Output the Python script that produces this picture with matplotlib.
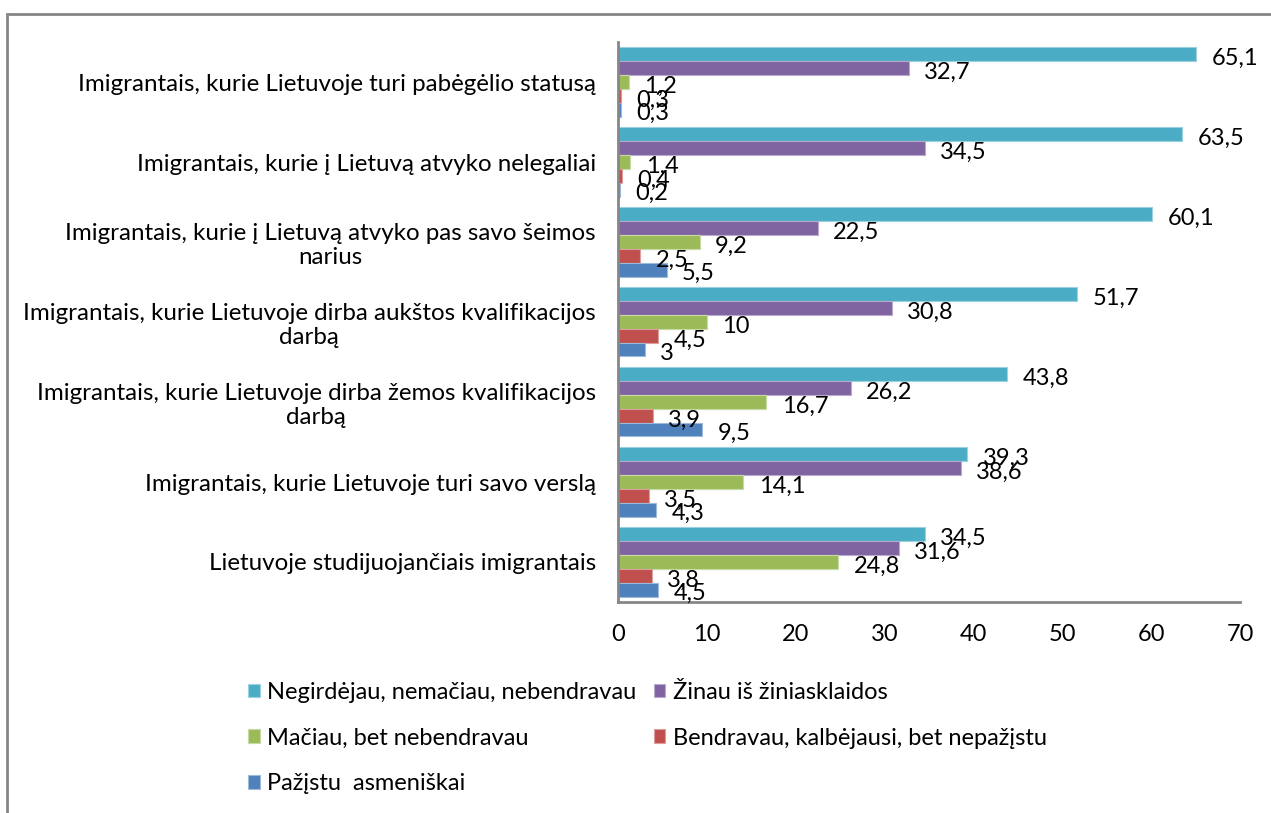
import matplotlib
matplotlib.use("Agg")
import matplotlib.pyplot as plt
import matplotlib.colors as mcolors
from matplotlib.patches import Rectangle
import numpy as np

plt.rcParams['font.family'] = ['Lato', 'DejaVu Sans']

categories = [
    "Imigrantais, kurie Lietuvoje turi pabėgėlio statusą",
    "Imigrantais, kurie į Lietuvą atvyko nelegaliai",
    "Imigrantais, kurie į Lietuvą atvyko pas savo šeimos\nnarius",
    "Imigrantais, kurie Lietuvoje dirba aukštos kvalifikacijos\ndarbą",
    "Imigrantais, kurie Lietuvoje dirba žemos kvalifikacijos\ndarbą",
    "Imigrantais, kurie Lietuvoje turi savo verslą",
    "Lietuvoje studijuojančiais imigrantais",
]
series_names = [
    "Negirdėjau, nemačiau, nebendravau",
    "Žinau iš žiniasklaidos",
    "Mačiau, bet nebendravau",
    "Bendravau, kalbėjausi, bet nepažįstu",
    "Pažįstu  asmeniškai",
]
negirdejau = [65.1, 63.5, 60.1, 51.7, 43.8, 39.3, 34.5]
zinau = [32.7, 34.5, 22.5, 30.8, 26.2, 38.6, 31.6]
maciau = [1.2, 1.4, 9.2, 10, 16.7, 14.1, 24.8]
bendravau = [0.3, 0.4, 2.5, 4.5, 3.9, 3.5, 3.8]
pazistu = [0.3, 0.2, 5.5, 3, 9.5, 4.3, 4.5]
series = [negirdejau, zinau, maciau, bendravau, pazistu]
colors = ["#4BACC6", "#8064A2", "#9BBB59", "#C0504D", "#4F81BD"]

FS = 17

fig = plt.figure(figsize=(12.71, 8.13), dpi=100)
ax = fig.add_axes([618/1271, 1-602/813, 622/1271, 560/813])

n = len(categories)
ypos = np.arange(n)[::-1]
h = 0.1725
handles = []
for j, (vals, col) in enumerate(zip(series, colors)):
    edge = mcolors.to_rgb(col)
    edge = tuple(c + (1 - c) * 0.45 for c in edge)
    yy = ypos + (2 - j) * h
    b = ax.barh(yy, vals, height=h, color=col, edgecolor=edge, linewidth=0.8,
                label=series_names[j])
    handles.append(b)
    for y, v in zip(yy, vals):
        lbl = ("%g" % v).replace(".", ",")
        ax.annotate(lbl, (v, y), xytext=(11, -3), textcoords="offset points",
                    va="center", ha="left", fontsize=FS)

ax.set_xlim(0, 70)
ax.set_ylim(-0.5, n - 0.5)
ax.set_xticks(range(0, 71, 10))
ax.set_yticks(ypos)
ax.set_yticklabels(categories, fontsize=17.4)
for t in ax.get_yticklabels():
    t.set_multialignment("center")
ax.tick_params(axis="x", length=0, pad=16, labelsize=FS)
ax.tick_params(axis="y", length=0, pad=16)
for s in ["top", "right"]:
    ax.spines[s].set_visible(False)
for s in ["left", "bottom"]:
    ax.spines[s].set_color("#868686")
    ax.spines[s].set_linewidth(2)

order = [0, 2, 4, 1, 3]
fig.legend([handles[i] for i in order], [series_names[i] for i in order],
           ncol=2, loc="upper left", bbox_to_anchor=(236/1271, 1-670/813),
           frameon=False, fontsize=FS, handlelength=0.5, handleheight=0.5,
           handletextpad=0.3, columnspacing=0.75, labelspacing=1.05, borderpad=0)

# outer chart border
fig.patches.append(Rectangle((7/1271, -0.1), 1.2, 1.1 - 14/813,
                             transform=fig.transFigure, fill=False,
                             edgecolor="#868686", linewidth=2))

fig.savefig("out.png", dpi=100)
